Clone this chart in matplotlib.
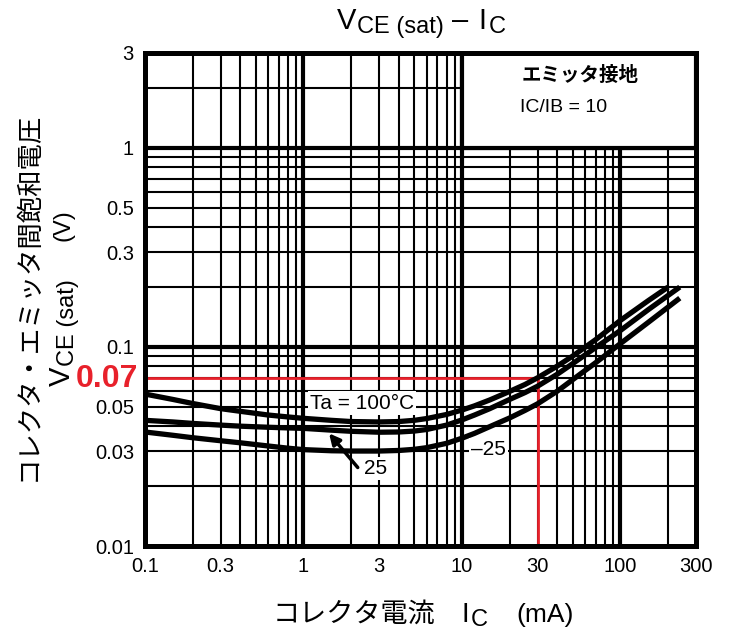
import matplotlib
matplotlib.use("Agg")
import matplotlib.pyplot as plt
from matplotlib.patches import Rectangle
from matplotlib.ticker import NullLocator

plt.rcParams['font.family'] = ['Liberation Sans', 'Noto Sans CJK JP', 'DejaVu Sans']

# ---------------- data ----------------
ic_100 = [0.1, 0.15, 0.2, 0.3, 0.4, 0.6, 0.8, 1, 1.5, 2, 3, 4, 5, 6, 8, 10, 12, 15,
          20, 25, 30, 40, 50, 70, 100, 150, 200]
vce_100 = [0.0580, 0.0545, 0.0520, 0.0490, 0.0475, 0.0455, 0.0445, 0.0438, 0.0428,
           0.0422, 0.0420, 0.0422, 0.0428, 0.0437, 0.0458, 0.0482, 0.0506, 0.0542,
           0.0598, 0.0648, 0.0700, 0.0802, 0.0900, 0.1090, 0.1360, 0.1710, 0.2000]

ic_25 = [0.1, 0.15, 0.2, 0.3, 0.4, 0.6, 0.8, 1, 1.5, 2, 3, 4, 5, 6, 8, 10, 12, 15,
         20, 25, 30, 40, 50, 70, 100, 150, 237]
vce_25 = [0.0428, 0.0420, 0.0413, 0.0405, 0.0400, 0.0395, 0.0392, 0.0390, 0.0382,
          0.0377, 0.0373, 0.0374, 0.0378, 0.0385, 0.0405, 0.0430, 0.0455, 0.0490,
          0.0545, 0.0590, 0.0635, 0.0730, 0.0825, 0.0995, 0.1210, 0.1540, 0.2000]

ic_m25 = [0.1, 0.15, 0.2, 0.3, 0.4, 0.6, 0.8, 1, 1.5, 2, 3, 4, 5, 6, 8, 10, 12, 15,
          20, 25, 30, 40, 50, 70, 100, 150, 237]
vce_m25 = [0.0374, 0.0360, 0.0350, 0.0338, 0.0330, 0.0318, 0.0310, 0.0305, 0.0301,
           0.0300, 0.0300, 0.0302, 0.0306, 0.0312, 0.0328, 0.0348, 0.0368, 0.0398,
           0.0440, 0.0480, 0.0518, 0.0600, 0.0685, 0.0835, 0.1040, 0.1330, 0.1760]

xtick_vals = [0.1, 0.3, 1, 3, 10, 30, 100, 300]
xtick_labels = ['0.1', '0.3', '1', '3', '10', '30', '100', '300']
ytick_vals = [0.01, 0.03, 0.05, 0.1, 0.3, 0.5, 1, 3]
ytick_labels = ['0.01', '0.03', '0.05', '0.1', '0.3', '0.5', '1', '3']

x_major_grid = [1, 10, 100]
x_minor_grid = [0.2, 0.3, 0.4, 0.5, 0.6, 0.7, 0.8, 0.9,
                2, 3, 4, 5, 6, 7, 8, 9,
                20, 30, 40, 50, 60, 70, 80, 90, 200]
y_major_grid = [0.1, 1]
y_minor_grid = [0.02, 0.03, 0.04, 0.05, 0.06, 0.07, 0.08, 0.09,
                0.2, 0.3, 0.4, 0.5, 0.6, 0.7, 0.8, 0.9, 2]

mark_ic = 30
mark_vce = 0.07

# ---------------- figure ----------------
W, H = 729, 641
fig = plt.figure(figsize=(W / 100, H / 100), dpi=100)
fig.patch.set_facecolor('white')
renderer = fig.canvas.get_renderer()
CJK = ['Noto Sans CJK JP']
LAT = ['Liberation Sans']


def text_runs(pieces, cx, cy, rotation=0):
    """pieces: (text, size, drop_px, gap_before_px, family). cx, cy in px
    (from top-left); run centred on cx (horizontal) or cy (vertical); cy/cx is baseline."""
    widths = []
    for t, s, d, g, fam in pieces:
        tmp = fig.text(0, 0, t, fontsize=s, family=fam)
        widths.append(tmp.get_window_extent(renderer).width)
        tmp.remove()
    total = sum(widths) + sum(p[3] for p in pieces)
    pos = -total / 2
    for (t, s, d, g, fam), w in zip(pieces, widths):
        pos += g
        if rotation == 0:
            x, y = cx + pos, cy + d
        else:
            x, y = cx + d, cy - pos
        fig.text(x / W, 1 - y / H, t, fontsize=s, family=fam, rotation=rotation,
                 rotation_mode='anchor', ha='left', va='baseline')
        pos += w


ax = fig.add_axes([145 / W, 1 - 546 / H, 551 / W, 493 / H])
ax.set_xscale('log')
ax.set_yscale('log')
ax.set_xlim(0.1, 300)
ax.set_ylim(0.01, 3)

for v in x_minor_grid:
    ax.axvline(v, color='black', lw=1.5, zorder=1)
for v in x_major_grid:
    ax.axvline(v, color='black', lw=3.0, zorder=1)
for v in y_minor_grid:
    ax.axhline(v, color='black', lw=1.5, zorder=1)
for v in y_major_grid:
    ax.axhline(v, color='black', lw=3.0, zorder=1)

# legend box
ax.add_patch(Rectangle((10, 1), 300 - 10, 3 - 1, facecolor='white',
                       edgecolor='black', lw=3.0, zorder=2))
ax.text(23.9, 2.31, 'エミッタ接地', fontsize=14, fontweight='bold',
        family=CJK, ha='left', va='center', zorder=3)
ax.text(23.2, 1.59, 'IC/IB = 10', fontsize=14, ha='left', va='center', zorder=3)

# red marker lines
red = '#e8212b'
ax.plot([0.1, mark_ic], [mark_vce, mark_vce], color=red, lw=2.0, zorder=3,
        solid_capstyle='butt')
ax.plot([mark_ic, mark_ic], [0.01, mark_vce], color=red, lw=2.0, zorder=3,
        solid_capstyle='butt')

# curves
for xs, ys in [(ic_100, vce_100), (ic_25, vce_25), (ic_m25, vce_m25)]:
    ax.plot(xs, ys, color='black', lw=3.8, zorder=4, solid_capstyle='butt',
            solid_joinstyle='round')

# annotations
bbox = dict(facecolor='white', edgecolor='none', pad=1.5)
ax.text(2.34, 0.0523, 'Ta = 100°C', fontsize=15, ha='center', va='center',
        bbox=bbox, zorder=5)
ax.text(14.8, 0.0304, '–25', fontsize=15, ha='center', va='center',
        bbox=bbox, zorder=5)
ax.text(2.85, 0.0245, '25', fontsize=15, ha='center', va='center',
        bbox=bbox, zorder=5)
ax.annotate('', xy=(1.45, 0.0368), xytext=(2.2, 0.0248),
            arrowprops=dict(arrowstyle='-|>', color='black', lw=2.5,
                            mutation_scale=16, shrinkA=0, shrinkB=0),
            zorder=5)

# ticks
ax.xaxis.set_minor_locator(NullLocator())
ax.yaxis.set_minor_locator(NullLocator())
ax.set_xticks(xtick_vals, xtick_labels)
ax.set_yticks(ytick_vals, ytick_labels)
ax.tick_params(length=0, labelsize=14.5, pad=8)
for s in ax.spines.values():
    s.set_linewidth(3.6)
    s.set_zorder(6)

# red 0.07 label
fig.text(138 / W, 1 - 379 / H, '0.07', color=red, fontsize=23, fontweight='bold',
         ha='right', va='center')

# title
text_runs([('V', 21, 0, 0, LAT), ('CE (sat)', 17, 4, 1, LAT),
           ('–', 21, 0, 8, LAT), ('I', 21, 0, 10, LAT), ('C', 17, 4, 2, LAT)],
          421, 29)

# x label
text_runs([('コレクタ電流', 19.5, 0, 0, CJK), ('I', 20, 0, 26, LAT),
           ('C', 17, 4, 2, LAT), ('(mA)', 19, 0, 28, LAT)],
          423, 622)

# y label
fig.text(28 / W, 1 - 296 / H, 'コレクタ・エミッタ間飽和電圧', fontsize=19,
         family=CJK, rotation=90, ha='center', va='center')
text_runs([('V', 21, 0, 0, LAT), ('CE (sat)', 17, 4, 1, LAT),
           ('(V)', 17, 0, 38, LAT)],
          70, 298, rotation=90)

fig.savefig('out.png', dpi=100, facecolor='white')
